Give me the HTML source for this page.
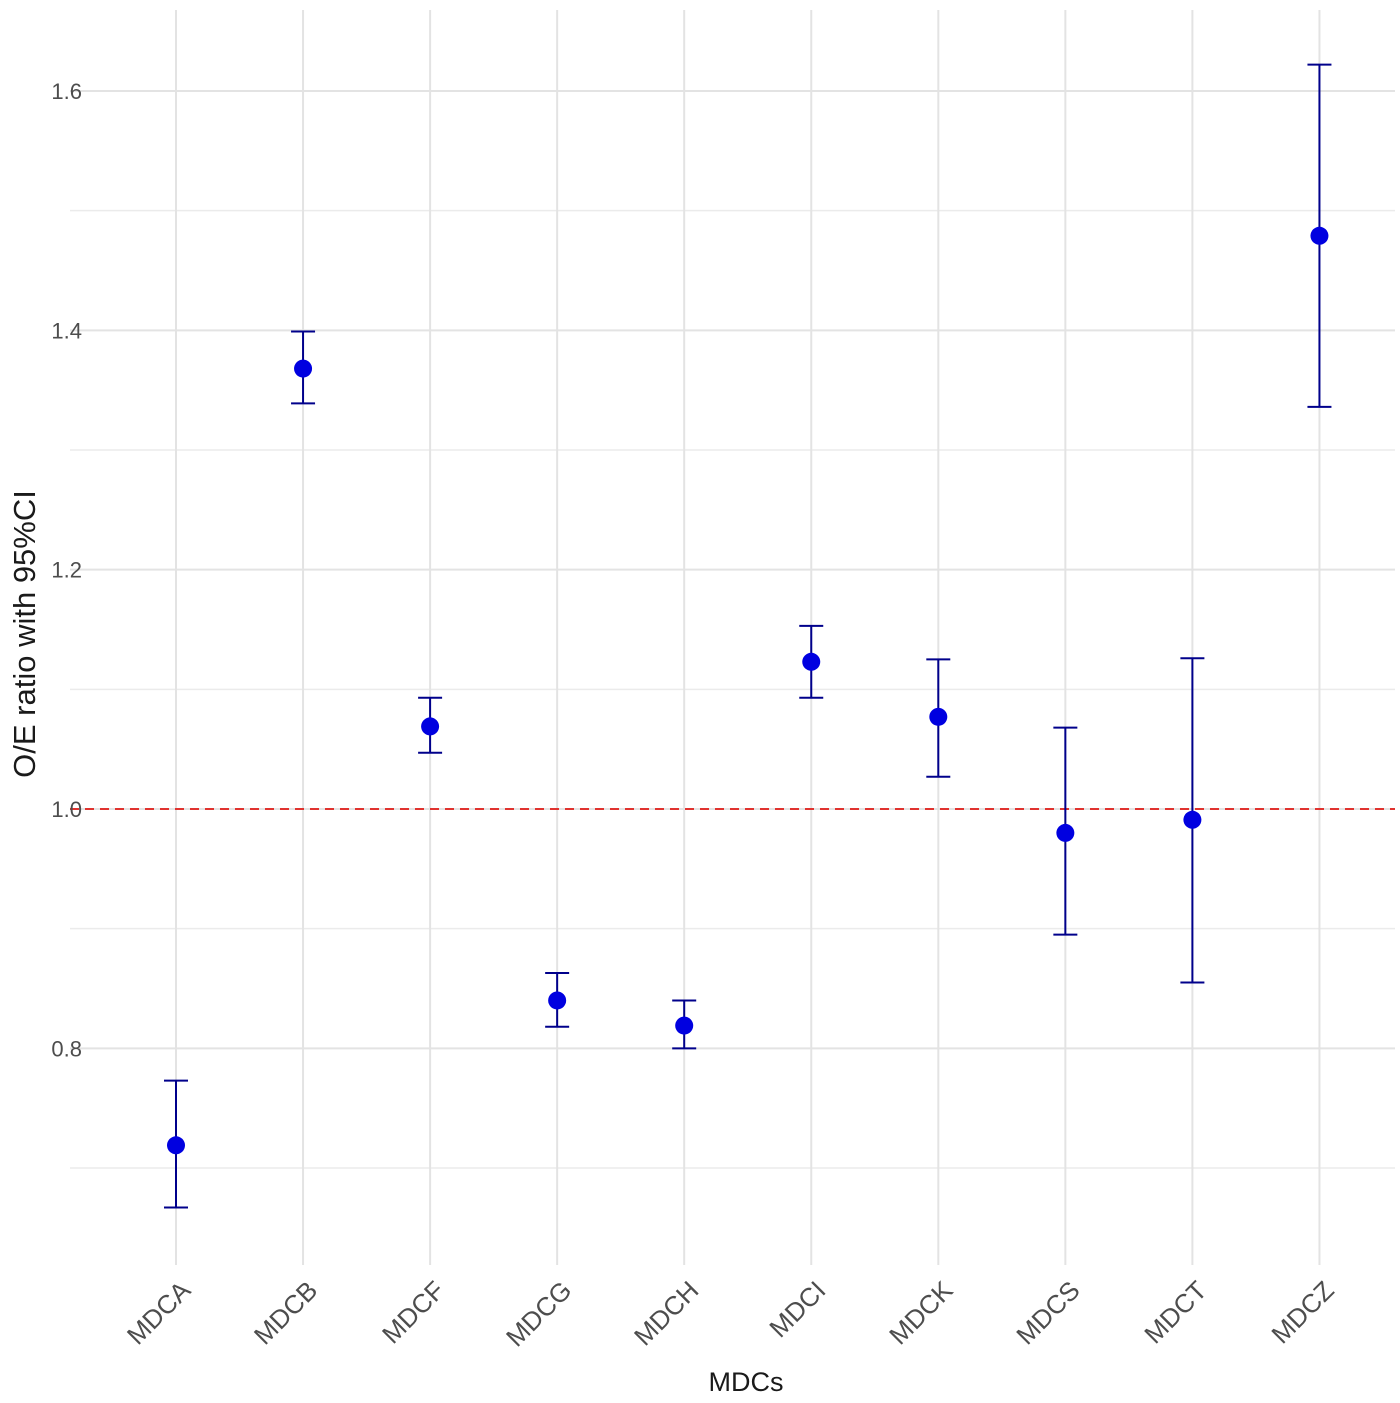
<!DOCTYPE html>
<html><head><meta charset="utf-8"><style>
html,body{margin:0;padding:0;background:#fff;}
svg{display:block;font-family:"Liberation Sans",Arial,sans-serif;}
</style></head><body>
<svg id="chart" width="1400" height="1403" viewBox="0 0 1400 1403" xmlns="http://www.w3.org/2000/svg">
<g id="grid"></g>
<g id="refline"></g>
<g id="marks"></g>
<g id="yticks"></g>
<g id="xticks"></g>
<text x="746" y="1391" font-size="27" fill="#1a1a1a" text-anchor="middle">MDCs</text>
<text transform="translate(35,634) rotate(-90)" font-size="31" fill="#1a1a1a" text-anchor="middle">O/E ratio with 95%CI</text>
</svg>
<script>
const categories=["MDCA","MDCB","MDCF","MDCG","MDCH","MDCI","MDCK","MDCS","MDCT","MDCZ"];
const estimates=[0.719,1.368,1.069,0.840,0.819,1.123,1.077,0.980,0.991,1.479];
const lowerCI=[0.667,1.339,1.047,0.818,0.800,1.093,1.027,0.895,0.855,1.336];
const upperCI=[0.773,1.399,1.093,0.863,0.840,1.153,1.125,1.068,1.126,1.622];
const yTicks=[0.8,1.0,1.2,1.4,1.6];
const yMinor=[0.7,0.9,1.1,1.3,1.5];
const refValue=1.0;

const NS="http://www.w3.org/2000/svg";
const y=v=>809-(v-1.0)*1196.7;
const x=i=>176+i*127.05;
const L=70,R=1395;
function mk(tag,attrs,parent){const e=document.createElementNS(NS,tag);for(const k in attrs)e.setAttribute(k,attrs[k]);parent.appendChild(e);return e;}
const grid=document.getElementById('grid');
yMinor.forEach(v=>{const l=mk('line',{x1:L,x2:R,y1:y(v),y2:y(v),stroke:'#ebebeb','stroke-width':1.5},grid);

});
yTicks.forEach(v=>{const l=mk('line',{x1:L,x2:R,y1:y(v),y2:y(v),stroke:'#e3e3e3','stroke-width':2},grid);

});
categories.forEach((c,i)=>{const l=mk('line',{x1:x(i),x2:x(i),y1:10,y2:1265,stroke:'#e3e3e3','stroke-width':2},grid);

});
const rl=mk('line',{x1:L,x2:R,y1:y(refValue),y2:y(refValue),stroke:'#e0332f','stroke-width':2,'stroke-dasharray':'9,6'},document.getElementById('refline'));


const marks=document.getElementById('marks');
categories.forEach((c,i)=>{
 const g=mk('g',{},marks);
 
 
 const cx=x(i),a=y(upperCI[i]),b=y(lowerCI[i]);
 mk('line',{x1:cx,x2:cx,y1:a,y2:b,stroke:'#00008b','stroke-width':2},g);
 mk('line',{x1:cx-12,x2:cx+12,y1:a,y2:a,stroke:'#00008b','stroke-width':2},g);
 mk('line',{x1:cx-12,x2:cx+12,y1:b,y2:b,stroke:'#00008b','stroke-width':2},g);
 const p=mk('circle',{cx:cx,cy:y(estimates[i]),r:9,fill:'#0000e0'},g);
 
 
});
const yt=document.getElementById('yticks');
yTicks.forEach(v=>{const t=mk('text',{x:82,y:y(v)+8,'font-size':22,fill:'#4d4d4d','text-anchor':'end'},yt);t.textContent=v.toFixed(1);

});
const xt=document.getElementById('xticks');
categories.forEach((c,i)=>{const px=x(i)+16,py=1292;
const t=mk('text',{x:px,y:py,'font-size':26,fill:'#4d4d4d','text-anchor':'end',transform:`rotate(-45 ${px} ${py})`},xt);t.textContent=c;

});
</script>
</body></html>
